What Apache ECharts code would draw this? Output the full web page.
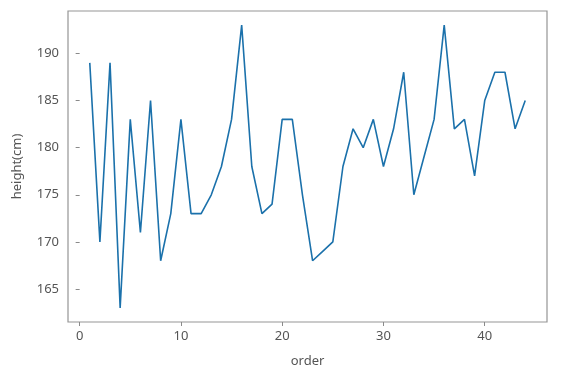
<!DOCTYPE html>
<html><head><meta charset="utf-8">
<script src="https://cdn.jsdelivr.net/npm/echarts@6/dist/echarts.min.js"></script>
<style>html,body{margin:0;padding:0;background:#fff}#c{width:576px;height:378px}</style>
</head><body><div id="c"></div>
<script>
const orders = [1,2,3,4,5,6,7,8,9,10,11,12,13,14,15,16,17,18,19,20,21,22,23,24,25,26,27,28,29,30,31,32,33,34,35,36,37,38,39,40,41,42,43,44];
const heights = [189,170,189,163,183,171,185,168,173,183,173,173,175,178,183,193,178,173,174,183,183,175,168,169,170,178,182,180,183,178,182,188,175,179,183,193,182,183,177,185,188,188,182,185];
const xTicks = [0,10,20,30,40];
const yTicks = [165,170,175,180,185,190];
const xLabel = 'order';
const yLabel = 'height(cm)';

const chart = echarts.init(document.getElementById('c'));
const font = '"Noto Sans", "Open Sans", sans-serif';
chart.setOption({
  animation:false,
  grid:{left:68,top:11,right:29,bottom:56,show:true,borderColor:'#959595',borderWidth:1.2,backgroundColor:'transparent'},
  xAxis:{type:'value',min:-1.15,max:46.15,
    name:xLabel,nameLocation:'middle',nameGap:33,nameTextStyle:{color:'#555',fontSize:13,fontFamily:font},
    axisLine:{show:false},splitLine:{show:false},
    axisTick:{show:true,length:4,lineStyle:{color:'#8a8a8a'},customValues:xTicks},
    axisLabel:{color:'#555',fontSize:13,fontFamily:font,margin:8,customValues:xTicks}},
  yAxis:{type:'value',min:161.5,max:194.5,
    name:yLabel,nameLocation:'middle',nameGap:44,nameTextStyle:{color:'#555',fontSize:13,fontFamily:font},
    axisLine:{show:false},splitLine:{show:false},
    axisTick:{show:true,length:4,lineStyle:{color:'#8a8a8a'},customValues:yTicks},
    axisLabel:{color:'#555',fontSize:13,fontFamily:font,margin:9,customValues:yTicks}},
  series:[{type:'line',data:orders.map((o,i)=>[o,heights[i]]),showSymbol:false,
    lineStyle:{color:'#1b71ab',width:1.6},itemStyle:{color:'#1b71ab'}}]
});
</script></body></html>
